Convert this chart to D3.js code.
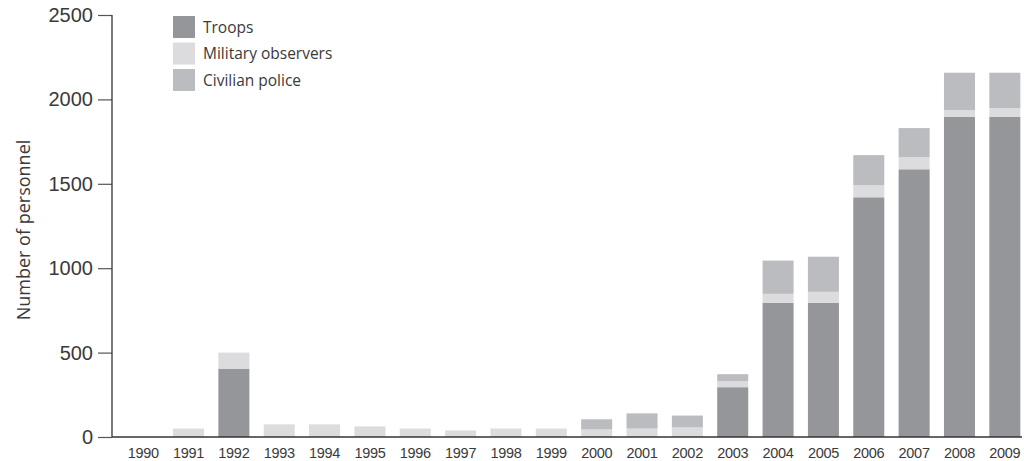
<!DOCTYPE html>
<html>
<head>
<meta charset="utf-8">
<script src="https://cdn.jsdelivr.net/npm/d3@7"></script>
<style>
  html, body { margin: 0; padding: 0; background: #fff; }
  svg { display: block; font-family: "Open Sans", "Noto Sans", sans-serif; }
</style>
</head>
<body>
<svg id="chart" width="1024" height="461"></svg>
<script>
const years = ["1990","1991","1992","1993","1994","1995","1996","1997","1998","1999",
               "2000","2001","2002","2003","2004","2005","2006","2007","2008","2009"];
const troops    = [0, 0, 405, 0, 0, 0, 0, 0, 0, 0, 0, 0, 0, 295, 795, 795, 1420, 1586, 1896, 1896];
const observers = [0, 50, 95, 75, 75, 63, 50, 39, 50, 50, 45, 50, 57, 35, 53, 65, 71, 72, 41, 53];
const police    = [0, 0, 0, 0, 0, 0, 0, 0, 0, 0, 60, 90, 70, 42, 197, 208, 179, 172, 221, 209];
const seriesNames = ["Troops", "Military observers", "Civilian police"];
const seriesKeys = ["troops", "observers", "police"];
const seriesColors = ["#95969a", "#dcdcde", "#bbbcc0"];
const yTicks = [0, 500, 1000, 1500, 2000, 2500];
const yTitle = "Number of personnel";

const svg = d3.select("#chart");
const textColor = "#3a3a3a";

const table = years.map((y, i) => ({year: y, troops: troops[i], observers: observers[i], police: police[i]}));
const stack = d3.stack().keys(seriesKeys)(table);

const x = d3.scaleBand().domain(years).range([120.5, 1027.5]).paddingInner(0.316).paddingOuter(0.158);
const y = d3.scaleLinear().domain([0, 2500]).range([437, 15]);
const color = d3.scaleOrdinal().domain(seriesKeys).range(seriesColors);

// bars
svg.append("g").selectAll("g").data(stack).join("g")
  .attr("fill", d => color(d.key))
  .selectAll("rect").data(d => d).join("rect")
  .attr("x", d => x(d.data.year))
  .attr("width", x.bandwidth())
  .attr("y", d => y(d[1]))
  .attr("height", d => Math.max(0, y(d[0]) - y(d[1])));

// y axis
const yAxis = svg.append("g").attr("transform", "translate(112,0)")
  .call(d3.axisLeft(y).tickValues(yTicks).tickSize(14).tickPadding(5).tickFormat(d3.format("d")));
yAxis.select(".domain").remove();
yAxis.selectAll(".tick line").attr("stroke", "#555").attr("stroke-width", 1.2);
yAxis.selectAll(".tick text").attr("fill", textColor).style("font-size", "20px");
svg.append("line").attr("x1", 112).attr("x2", 112).attr("y1", y(2500)).attr("y2", y(0))
  .attr("stroke", "#333").attr("stroke-width", 1.3);

// x axis
const xAxis = svg.append("g").attr("transform", `translate(0,${y(0)})`)
  .call(d3.axisBottom(x).tickSize(0).tickPadding(11));
xAxis.select(".domain").remove();
xAxis.selectAll(".tick text").attr("fill", textColor).style("font-size", "14.5px").style("letter-spacing", "-0.3px");
svg.append("line").attr("x1", 112).attr("x2", 1022).attr("y1", y(0)).attr("y2", y(0))
  .attr("stroke", "#333").attr("stroke-width", 1.5);

// y title
svg.append("text")
  .attr("transform", `translate(30,${(133+327)/2}) rotate(-90)`)
  .attr("text-anchor", "middle")
  .attr("fill", textColor)
  .style("font-size", "18px")
  .text(yTitle);

// legend
const legend = svg.append("g").attr("transform", "translate(173,16)");
const li = legend.selectAll("g").data(seriesKeys).join("g")
  .attr("transform", (d, i) => `translate(0,${i * 26.5})`);
li.append("rect").attr("width", 22).attr("height", 22).attr("fill", d => color(d));
li.append("text").attr("x", 30).attr("y", 16.5).attr("fill", textColor)
  .style("font-size", "15.5px")
  .text((d, i) => seriesNames[i]);
</script>
</body>
</html>
